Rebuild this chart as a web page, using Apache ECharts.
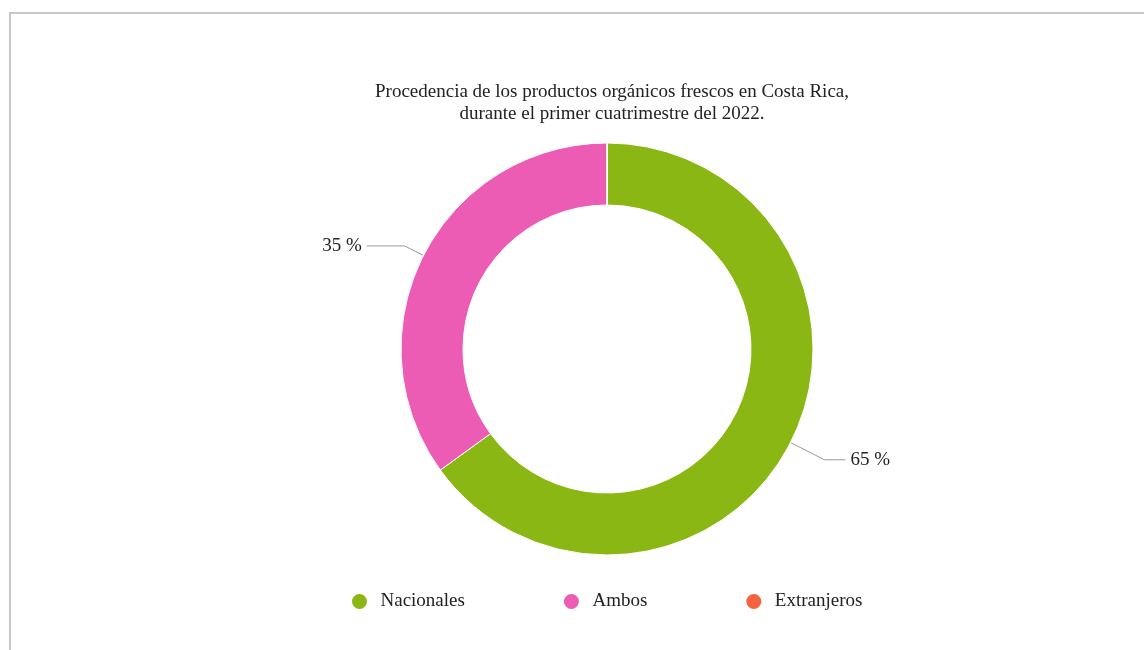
<!DOCTYPE html>
<html>
<head>
<meta charset="utf-8">
<script src="https://cdn.jsdelivr.net/npm/echarts@6/dist/echarts.min.js"></script>
<style>
html,body{margin:0;padding:0;background:#fff;}
#frame{position:absolute;left:9px;top:12px;width:1200px;height:700px;border-left:2px solid #c8c8c8;border-top:2px solid #c8c8c8;}
#chart{position:absolute;left:0;top:0;width:1144px;height:650px;}
</style>
</head>
<body>
<div id="frame"></div>
<div id="chart"></div>
<script>
var titleText = 'Procedencia de los productos orgánicos frescos en Costa Rica,\ndurante el primer cuatrimestre del 2022.';
var categories = ['Nacionales', 'Ambos', 'Extranjeros'];
var values = [65, 35, 0];
var colors = ['#8AB713', '#EC5CB4', '#F8623F'];

var chart = echarts.init(document.getElementById('chart'));
var font = '"Liberation Serif", "Times New Roman", serif';
chart.setOption({
  animation: false,
  color: colors,
  title: {
    text: titleText,
    left: 607,
    textAlign: 'center',
    top: 76,
    textStyle: {fontFamily: font, fontSize: 19, fontWeight: 'normal', color: '#222', lineHeight: 22}
  },
  legend: {
    data: categories,
    left: 345,
    top: 587,
    icon: 'circle',
    itemWidth: 32,
    itemHeight: 17,
    itemGap: 97,
    textStyle: {fontFamily: font, fontSize: 19, color: '#222'}
  },
  series: [{
    type: 'pie',
    center: [607, 349],
    radius: [144, 206],
    startAngle: 90,
    clockwise: true,
    itemStyle: {borderColor: '#fff', borderWidth: 1},
    label: {
      formatter: '{d} %',
      fontFamily: font,
      fontSize: 19,
      color: '#222'
    },
    labelLine: {length: 21, length2: 38, lineStyle: {color: '#999', width: 1}},
    emphasis: {disabled: true},
    data: categories.map(function (c, i) {
      var d = {name: c, value: values[i]};
      if (i === 0) { d.labelLine = {length: 38, length2: 21}; }
      if (values[i] === 0) { d.label = {show: false}; d.labelLine = {show: false}; }
      return d;
    })
  }]
});
</script>
</body>
</html>
